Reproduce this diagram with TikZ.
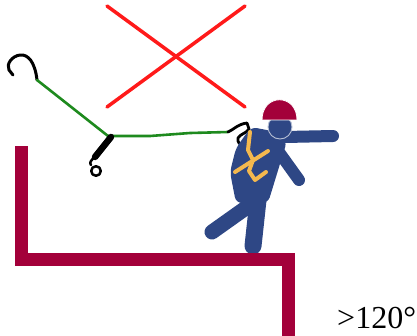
\documentclass[tikz,border=0pt]{standalone}
\usepackage{fontspec}
\setmainfont{Liberation Serif}
\begin{document}
\begin{tikzpicture}[x=1pt,y=-1pt,
  rail/.style={draw=railred,line width=12.5pt,line join=miter},
  cross/.style={draw=crossred,line width=3.5pt,line cap=round},
  rope/.style={draw=ropegreen,line width=2.6pt,line cap=round,line join=round},
  metal/.style={draw=black,line width=3pt,line cap=round,line join=round},
  limb/.style={draw=bodyblue,line cap=round},
  strap/.style={draw=harness,line width=4pt,line cap=round,line join=round}]
\definecolor{railred}{HTML}{A3003A}
\definecolor{crossred}{HTML}{FF1A1A}
\definecolor{ropegreen}{HTML}{1E8A1E}
\definecolor{bodyblue}{HTML}{2E4785}
\definecolor{harness}{HTML}{F4B84E}
\useasboundingbox (0,0) rectangle (417,335);
\fill[white] (0,0) rectangle (417,335);

% crossed-out zone above the edge
\draw[cross] (107,6) -- (245,107);
\draw[cross] (245,6) -- (107,107);

% lanyard: anchor hook, webbing, shock absorber, harness snap hook
\draw[metal] (37,80) .. controls (35,62) and (28,54) .. (20,55)
  .. controls (12,56) and (6,64) .. (9,70) -- (13,75);
\coordinate (junction) at (108,136);
\draw[rope] (37,80) -- (junction);
\draw[rope] (junction) -- (150,136) -- (190,133) -- (228,132);
\draw[metal,line width=6.5pt] (111,137) -- (95,157);
\draw[metal,line width=2.5pt] (95,157) .. controls (91,160) and (89,163) .. (91,165);
\draw[metal,line width=2.5pt] (96,171) circle (4.8);
\draw[metal,line width=2.8pt] (228,132) .. controls (233,130) and (238,124) .. (247,123)
  -- (249,129) .. controls (247,133) and (240,134) .. (238,138)
  .. controls (237,142) and (240,145) .. (243,145);

% worker
\draw[limb,line width=15pt] (250,205) -- (212,232);
\draw[limb,line width=17pt] (258,200) -- (253,246);
\draw[limb,line width=12pt] (276,148) -- (299,180);
\draw[limb,line width=12pt] (285,137) -- (333,136);
\fill[bodyblue,rounded corners=6pt] (251,127) -- (272,131) -- (287,141) -- (268,203)
  -- (236,203) -- (230,172) -- (236,148) -- cycle;
\draw[strap] (250,132) -- (248,150) -- (253,160) -- (249,171) -- (255,180) -- (266,172);
\draw[strap] (235,172) -- (268,151);
\filldraw[fill=bodyblue,draw=bodyblue!35!white,line width=0.9pt] (280,127) circle (12);
\filldraw[fill=railred,draw=white,line width=0.8pt] (262,120)
  .. controls (262,93) and (297,93) .. (297,120) -- cycle;

% edge of the structure
\draw[rail] (21.5,146) -- (21.5,259.5) -- (288.5,259.5) -- (288.5,336);

% angle note
\node[anchor=base west,inner sep=0pt,font=\fontsize{32}{32}\selectfont] (angle) at (337,328) {>120°};
\end{tikzpicture}
\end{document}
